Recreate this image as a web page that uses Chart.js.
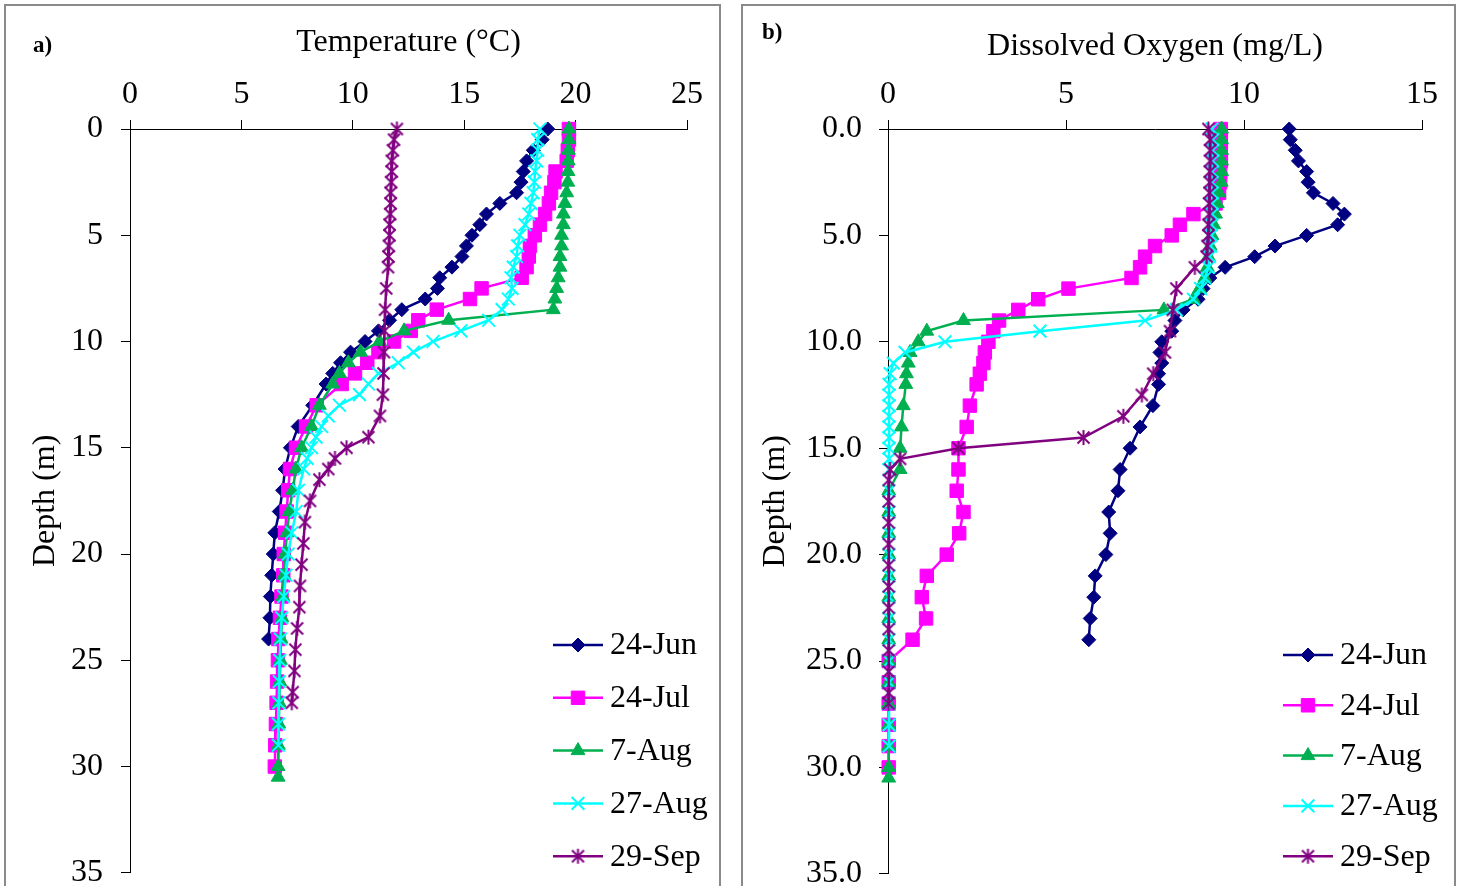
<!DOCTYPE html>
<html>
<head>
<meta charset="utf-8">
<script src="https://cdn.jsdelivr.net/npm/chart.js@4.4.1/dist/chart.umd.min.js"></script>
<style>
  html, body { margin: 0; padding: 0; background: #fff; overflow: hidden; }
  body { width: 1462px; height: 886px; position: relative; }
  .frame { position: absolute; border: 2px solid #8a8a8a; box-sizing: border-box; }
  canvas { position: absolute; }
  .tag { position: absolute; font: bold 23px 'Liberation Serif', serif; line-height: 23px; }
</style>
</head>
<body>
<div class="frame" style="left:4px;top:4px;width:717px;height:920px"></div>
<div class="frame" style="left:741px;top:4px;width:715px;height:920px"></div>
<canvas id="temp-chart" width="714" height="905" style="left:5px;top:5px"></canvas>
<canvas id="oxygen-chart" width="711" height="905" style="left:743px;top:5px"></canvas>
<div class="tag" style="left:33px;top:33px">a)</div>
<div class="tag" style="left:762px;top:20px">b)</div>
<script>
var seriesLabels = ['24-Jun', '24-Jul', '7-Aug', '27-Aug', '29-Sep'];

var tempTicks = [0, 5, 10, 15, 20, 25];
var oxygenTicks = [0, 5, 10, 15];
var depthTicks = [0, 5, 10, 15, 20, 25, 30, 35];

// depths (m) of each profile
var depthJun = [0, 0.5, 1, 1.5, 2, 2.5, 3, 3.5, 4, 4.5, 5, 5.5, 6, 6.5, 7, 7.5, 8, 8.5, 9, 9.5,
  10, 10.5, 11, 11.5, 12, 13, 14, 15, 16, 17, 18, 19, 20, 21, 22, 23, 24];
var depthJul = [0, 0.5, 1, 1.5, 2, 2.5, 3, 3.5, 4, 4.5, 5, 5.5, 6, 6.5, 7, 7.5, 8, 8.5, 9, 9.5,
  10, 10.5, 11, 11.5, 12, 13, 14, 15, 16, 17, 18, 19, 20, 21, 22, 23, 24, 25, 26, 27, 28, 29, 30];
var depthAug7 = [0, 0.5, 1, 1.5, 2, 2.5, 3, 3.5, 4, 4.5, 5, 5.5, 6, 6.5, 7, 7.5, 8, 8.5, 9, 9.5,
  10, 10.5, 11, 11.5, 12, 13, 14, 15, 16, 17, 18, 19, 20, 21, 22, 23, 24, 25, 26, 27, 28, 29, 30, 30.5];
var depthAug27 = [0, 0.5, 1, 1.5, 2, 2.5, 3, 3.5, 4, 4.5, 5, 5.5, 6, 6.5, 7, 7.5, 8, 8.5, 9, 9.5,
  10, 10.5, 11, 11.5, 12, 12.5, 13, 13.5, 14, 14.5, 15, 15.5, 16, 17, 18, 19, 20, 21, 22, 23, 24, 25, 26, 27, 28, 29];
var depthSep = [0, 0.5, 1, 1.5, 2, 2.5, 3, 3.5, 4, 4.5, 5, 5.5, 6, 6.5, 7.5, 8.5, 9.5, 10.5, 11.5, 12.5,
  13.5, 14.5, 15, 15.5, 16, 16.5, 17.5, 18.5, 19.5, 20.5, 21.5, 22.5, 23.5, 24.5, 25.5, 26.5, 27];

// temperature (deg C)
var tempJun = [18.75, 18.5, 18.1, 17.8, 17.65, 17.55, 17.35, 16.6, 16.0, 15.7, 15.35, 15.1, 14.9, 14.45, 13.9, 13.8, 13.25, 12.2, 11.65, 11.15,
  10.55, 9.9, 9.45, 9.1, 8.8, 8.2, 7.55, 7.2, 6.96, 6.85, 6.7, 6.5, 6.43, 6.36, 6.3, 6.28, 6.22];
var tempJul = [19.7, 19.7, 19.65, 19.6, 19.1, 19.05, 18.9, 18.8, 18.63, 18.4, 18.17, 17.95, 17.9, 17.8, 17.58, 15.78, 15.26, 13.77, 12.94, 12.6,
  11.85, 11.15, 10.65, 10.1, 9.5, 8.38, 7.9, 7.45, 7.18, 7.1, 7.03, 6.96, 6.9, 6.88, 6.8, 6.73, 6.66, 6.64, 6.6, 6.58, 6.55, 6.52, 6.5];
var tempAug7 = [19.7, 19.7, 19.68, 19.67, 19.66, 19.65, 19.6, 19.52, 19.45, 19.45, 19.37, 19.37, 19.3, 19.3, 19.22, 19.15, 19.07, 19.0, 14.3, 12.3,
  11.2, 10.35, 9.8, 9.4, 9.1, 8.5, 8.15, 7.7, 7.45, 7.3, 7.15, 7.05, 6.96, 6.9, 6.86, 6.82, 6.78, 6.75, 6.72, 6.7, 6.68, 6.66, 6.65, 6.65];
var tempAug27 = [18.4, 18.3, 18.3, 18.25, 18.18, 18.15, 18.1, 18.0, 17.9, 17.73, 17.5, 17.4, 17.35, 17.2, 17.1, 17.15, 16.98, 16.7, 16.1, 14.85,
  13.6, 12.72, 12.04, 11.15, 10.7, 10.3, 9.4, 8.9, 8.6, 8.35, 8.15, 7.95, 7.8, 7.56, 7.46, 7.26, 7.1, 7.0, 6.9, 6.81, 6.75, 6.72, 6.7, 6.68, 6.66, 6.66];
var tempSep = [11.98, 11.85, 11.8, 11.75, 11.75, 11.72, 11.7, 11.7, 11.68, 11.65, 11.65, 11.62, 11.6, 11.58, 11.5, 11.45, 11.42, 11.4, 11.38, 11.35,
  11.22, 10.7, 9.72, 9.2, 8.9, 8.5, 8.08, 7.85, 7.78, 7.7, 7.63, 7.6, 7.5, 7.42, 7.38, 7.3, 7.26];

// dissolved oxygen (mg/L)
var oxyJun = [11.27, 11.3, 11.44, 11.53, 11.76, 11.8, 11.95, 12.5, 12.82, 12.63, 11.76, 10.87, 10.3, 9.47, 9.04, 8.85, 8.71, 8.29, 8.06, 7.97,
  7.69, 7.64, 7.69, 7.6, 7.6, 7.44, 7.08, 6.8, 6.52, 6.46, 6.2, 6.24, 6.12, 5.82, 5.78, 5.68, 5.64];
var oxyJul = [9.35, 9.35, 9.35, 9.35, 9.33, 9.33, 9.3, 9.2, 8.58, 8.2, 7.97, 7.5, 7.22, 7.08, 6.84, 5.07, 4.22, 3.66, 3.12, 2.96,
  2.82, 2.72, 2.68, 2.58, 2.49, 2.3, 2.21, 1.98, 1.98, 1.93, 2.12, 2.0, 1.65, 1.09, 0.95, 1.07, 0.69, 0.02, 0.02, 0.02, 0.02, 0.02, 0.02];
var oxyAug7 = [9.37, 9.37, 9.37, 9.37, 9.37, 9.36, 9.3, 9.25, 9.2, 9.15, 9.1, 9.05, 9.0, 8.97, 8.9, 8.75, 8.58, 7.75, 2.12, 1.09,
  0.85, 0.62, 0.57, 0.52, 0.5, 0.43, 0.38, 0.34, 0.34, 0.02, 0.02, 0.02, 0.02, 0.02, 0.02, 0.02, 0.02, 0.02, 0.02, 0.02, 0.02, 0.02, 0.02, 0.02];
var oxyAug27 = [9.1, 9.12, 9.12, 9.12, 9.1, 9.1, 9.1, 9.1, 9.1, 9.08, 9.08, 9.06, 9.03, 9.0, 8.9, 8.78, 8.58, 8.1, 7.22, 4.27,
  1.6, 0.48, 0.15, 0.06, 0.03, 0.03, 0.03, 0.03, 0.03, 0.03, 0.03, 0.03, 0.03, 0.03, 0.03, 0.03, 0.03, 0.03, 0.03, 0.03, 0.03, 0.03, 0.03, 0.03, 0.03, 0.03];
var oxySep = [9.0, 9.05, 9.05, 9.05, 9.04, 9.04, 9.03, 9.02, 9.02, 9.0, 9.0, 8.97, 8.95, 8.62, 8.1, 8.0, 7.92, 7.78, 7.45, 7.13,
  6.61, 5.49, 1.98, 0.34, 0.06, 0.02, 0.02, 0.02, 0.02, 0.02, 0.02, 0.02, 0.02, 0.02, 0.02, 0.02, 0.02];

var depths = [depthJun, depthJul, depthAug7, depthAug27, depthSep];
var tempSeries = [tempJun, tempJul, tempAug7, tempAug27, tempSep];
var oxySeries = [oxyJun, oxyJul, oxyAug7, oxyAug27, oxySep];

var FONT = "'Liberation Serif', 'Times New Roman', serif";
var FONT_SIZE = 32;
Chart.defaults.font.family = FONT;
Chart.defaults.font.size = FONT_SIZE;
Chart.defaults.color = '#000';


// Excel style "star": an x with a vertical bar
function makeStar(color) {
  var c = document.createElement('canvas');
  c.width = 17;
  c.height = 17;
  var g = c.getContext('2d');
  g.strokeStyle = color;
  g.lineWidth = 2;
  g.beginPath();
  g.moveTo(2.5, 2.5); g.lineTo(14.5, 14.5);
  g.moveTo(14.5, 2.5); g.lineTo(2.5, 14.5);
  g.moveTo(8.5, 1); g.lineTo(8.5, 16);
  g.stroke();
  return c;
}

var styles = [
  { color: '#000080', pointStyle: 'rectRot', radius: 7, border: 1 },
  { color: '#ff00ff', pointStyle: 'rect', radius: 9.5, border: 1 },
  { color: '#00b050', pointStyle: 'triangle', radius: 8, border: 1 },
  { color: '#00ffff', pointStyle: 'crossRot', radius: 9, border: 2 },
  { color: '#800080', pointStyle: makeStar('#800080'), radius: 8, border: 2 }
];


function buildDatasets(series) {
  var sets = [];
  for (var i = 0; i < series.length; i++) {
    var pts = [];
    for (var j = 0; j < series[i].length; j++) {
      pts.push({ x: series[i][j], y: depths[i][j] });
    }
    var s = styles[i];
    sets.push({
      label: seriesLabels[i],
      data: pts,
      borderColor: s.color,
      borderWidth: 2.5,
      backgroundColor: s.color,
      pointStyle: s.pointStyle,
      pointRadius: s.radius,
      pointBackgroundColor: s.color,
      pointBorderColor: s.color,
      pointBorderWidth: s.border,
      order: series.length - i,   // later series on top, like Excel
      clip: false,
      tension: 0
    });
  }
  return sets;
}


// legend with a line sample and marker, drawn inside the plot
var lineLegend = {
  id: 'lineLegend',
  afterDraw: function(chart, args, opts) {
    var ctx = chart.ctx;
    ctx.save();
    chart.data.datasets.forEach(function(ds, i) {
      var y = opts.top + i * opts.gap;
      ctx.strokeStyle = ds.borderColor;
      ctx.lineWidth = ds.borderWidth;
      ctx.beginPath();
      ctx.moveTo(opts.left, y);
      ctx.lineTo(opts.left + 50, y);
      ctx.stroke();
      ctx.fillStyle = ds.pointBackgroundColor;
      ctx.strokeStyle = ds.pointBorderColor;
      ctx.lineWidth = ds.pointBorderWidth;
      Chart.helpers.drawPoint(ctx, {
        pointStyle: ds.pointStyle,
        radius: ds.pointRadius,
        borderWidth: ds.pointBorderWidth,
        rotation: 0
      }, opts.left + 25, y);
      ctx.fillStyle = '#000';
      ctx.font = FONT_SIZE + 'px ' + FONT;
      ctx.textAlign = 'left';
      ctx.textBaseline = 'middle';
      ctx.fillText(ds.label, opts.left + 57, y + 1);
    });
    ctx.restore();
  }
};


function makeChart(id, series, xMax, xTicks, xTitle, titlePad, yTitlePad, yLabelPad, yDecimals, axisWidth, legendOpts) {
  return new Chart(document.getElementById(id), {
    type: 'line',
    data: { datasets: buildDatasets(series) },
    plugins: [lineLegend],
    options: {
      responsive: false,
      devicePixelRatio: 1,
      animation: false,
      events: [],
      layout: { padding: { left: 0, top: 0, right: 32, bottom: 18 } },
      plugins: {
        legend: { display: false },
        tooltip: { enabled: false },
        lineLegend: legendOpts
      },
      scales: {
        x: {
          type: 'linear',
          position: 'top',
          min: 0,
          max: xMax,
          afterBuildTicks: function(scale) {
            scale.ticks = xTicks.map(function(v) { return { value: v }; });
          },
          afterFit: function(scale) { scale.height = 124; },
          ticks: { padding: 6, color: '#000' },
          grid: { drawOnChartArea: false, tickLength: 9, color: '#000', tickColor: '#000', lineWidth: 1 },
          border: { display: true, color: '#000', width: 1 },
          title: { display: true, text: xTitle, color: '#000', padding: { top: titlePad, bottom: 0 } }
        },
        y: {
          type: 'linear',
          reverse: true,
          min: 0,
          max: 35,
          afterBuildTicks: function(scale) {
            scale.ticks = depthTicks.map(function(v) { return { value: v }; });
          },
          afterFit: function(scale) { scale.width = axisWidth; },
          ticks: {
            padding: yLabelPad,
            color: '#000',
            callback: function(v) { return v.toFixed(yDecimals); }
          },
          grid: { drawOnChartArea: false, tickLength: 9, color: '#000', tickColor: '#000', lineWidth: 1 },
          border: { display: true, color: '#000', width: 1 },
          title: { display: true, text: 'Depth (m)', color: '#000', padding: { top: yTitlePad, bottom: 0 } }
        }
      }
    }
  });
}


document.addEventListener('DOMContentLoaded', function() {
  makeChart('temp-chart', tempSeries, 25, tempTicks, 'Temperature (°C)', 18, 21, 18, 0, 125,
    { left: 548, top: 640, gap: 52.8 });
  makeChart('oxygen-chart', oxySeries, 15, oxygenTicks, 'Dissolved Oxygen (mg/L)', 22, 13, 17, 1, 145,
    { left: 540, top: 650, gap: 50.3 });
});
</script>
</body>
</html>
